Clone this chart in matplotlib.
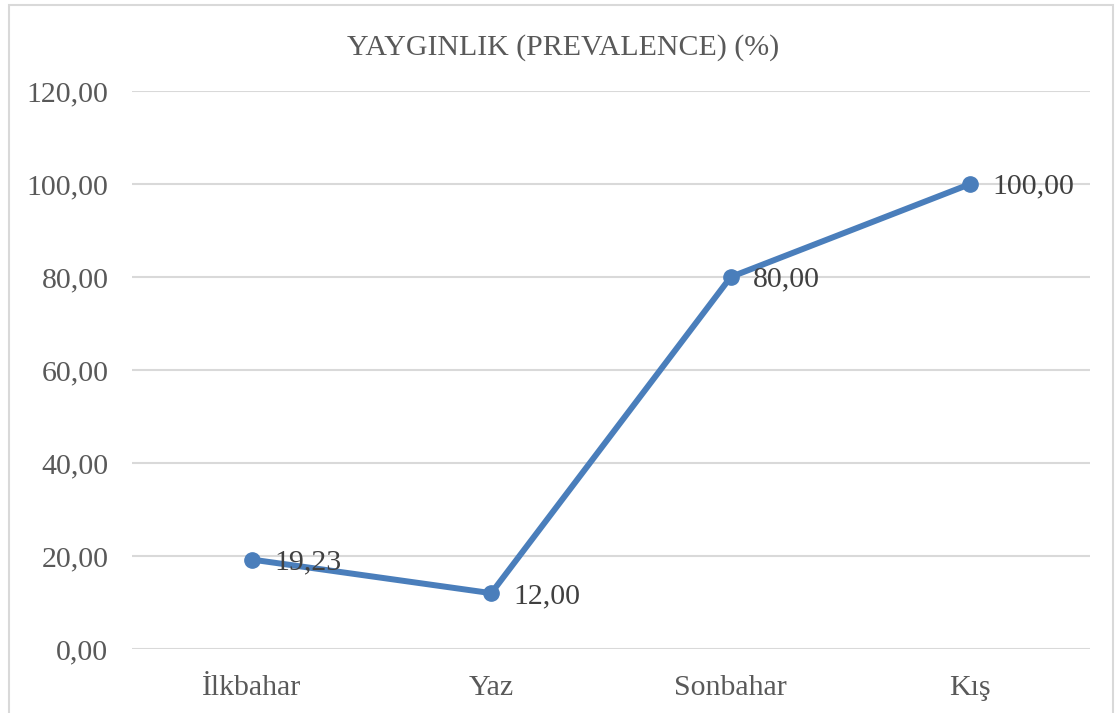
import matplotlib
matplotlib.use("Agg")
import matplotlib.pyplot as plt
from matplotlib.patches import Rectangle
from matplotlib.ticker import FuncFormatter

# Seasonal prevalence values
seasons = ['İlkbahar', 'Yaz', 'Sonbahar', 'Kış']
prevalence = [19.23, 12.00, 80.00, 100.00]
y_ticks = [0, 20, 40, 60, 80, 100, 120]

plt.rcParams['font.family'] = ['Liberation Serif', 'DejaVu Serif']
text_gray = '#595959'
line_blue = '#4A7EBB'
fs = 21.5


def tr_num(v, pos=None):
    return f"{v:.2f}".replace('.', ',')


fig = plt.figure(figsize=(11.15, 7.13), dpi=100)
ax = fig.add_axes([0.1184, 0.0898, 0.8592, 0.7826])

x = list(range(len(seasons)))
ax.plot(x, prevalence, color=line_blue, linewidth=4.3, marker='o',
        markersize=11, solid_capstyle='round', zorder=3)

for xi, v in zip(x, prevalence):
    ax.annotate(tr_num(v), (xi, v), xytext=(16, -2), textcoords='offset points',
                ha='left', va='center', fontsize=fs, color='#404040', zorder=4)

ax.set_xlim(-0.5, len(seasons) - 0.5)
ax.set_ylim(0, 120)
ax.set_yticks(y_ticks)
ax.yaxis.set_major_formatter(FuncFormatter(tr_num))
ax.set_xticks(x)
ax.set_xticklabels(seasons)
ax.tick_params(axis='both', length=0, labelsize=fs, labelcolor=text_gray)
ax.tick_params(axis='y', pad=17)
ax.tick_params(axis='x', pad=18.5)
ax.grid(axis='y', color='#D9D9D9', linewidth=1.5)
ax.set_axisbelow(True)
for s in ax.spines.values():
    s.set_visible(False)

fig.text(0.505, 0.934, 'YAYGINLIK (PREVALENCE) (%)', ha='center', va='center',
         fontsize=fs, color=text_gray)

# light chart border
fig.patches.append(Rectangle((8.5 / 1115, -0.01), 1104 / 1115, 1.0 - 4.5 / 713 + 0.01,
                             transform=fig.transFigure, fill=False,
                             edgecolor='#D9D9D9', linewidth=1.5))

fig.savefig('out.png', dpi=100)
